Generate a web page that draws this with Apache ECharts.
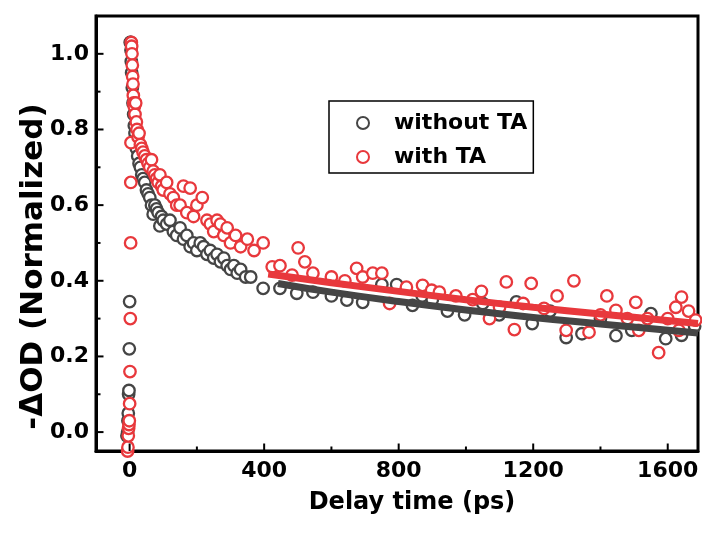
<!DOCTYPE html>
<html>
<head>
<meta charset="utf-8">
<script src="https://cdn.jsdelivr.net/npm/echarts@6/dist/echarts.min.js"></script>
<style>html,body{margin:0;padding:0;background:#fff}#c{width:702px;height:537px}</style>
</head>
<body>
<div id="c"></div>
<script>
// ---- data ----
var xTicks = [0, 400, 800, 1200, 1600];
var xMinorTicks = [200, 600, 1000, 1400];
var yTicks = [0, 0.2, 0.4, 0.6, 0.8, 1.0];
var yMinorTicks = [0.1, 0.3, 0.5, 0.7, 0.9];

var grayX = [-8,-6,-5,-4,-3,-2,-1,0,2,3,4,5,6,8,10,12,14,16,18,20,24,28,32,36,40,45,50,55,60,65,70,75,80,85,90,95,100,110,120,130,140,150,160,170,180,190,200,210,220,230,240,250,260,270,280,290,300,310,320,330,345,360,397,447,497,545,600,646,693,750,794,841,870,900,945,996,1050,1099,1150,1197,1250,1298,1345,1400,1446,1493,1550,1594,1641,1680];
var grayY = [-0.01,0.0,0.03,0.05,0.10,0.11,0.22,0.345,1.03,1.03,1.01,0.98,0.95,0.91,0.87,0.84,0.81,0.79,0.77,0.75,0.73,0.71,0.70,0.68,0.67,0.66,0.64,0.63,0.62,0.60,0.576,0.60,0.59,0.58,0.545,0.57,0.56,0.55,0.56,0.53,0.52,0.54,0.51,0.52,0.49,0.50,0.48,0.50,0.49,0.47,0.48,0.46,0.47,0.45,0.46,0.44,0.43,0.44,0.42,0.43,0.41,0.41,0.38,0.38,0.367,0.37,0.36,0.349,0.343,0.39,0.39,0.335,0.36,0.35,0.32,0.31,0.34,0.31,0.344,0.287,0.32,0.25,0.26,0.30,0.255,0.269,0.313,0.247,0.256,0.28];

var redX = [-6,-5,-4,-3,-2,-1,0,1,2,3,3.5,4,5,6,7,8,9,10,11,12,14,16,18,20,22,25,28,32,36,40,45,50,55,60,65,70,75,80,85,90,95,100,110,120,130,140,150,160,170,180,190,200,216,230,240,250,260,270,280,290,300,315,330,350,370,397,424,447,483,501,521,545,600,640,675,693,723,750,773,823,871,898,921,970,1020,1046,1070,1100,1120,1144,1170,1194,1232,1271,1298,1321,1366,1400,1419,1446,1480,1505,1514,1540,1573,1600,1624,1633,1641,1662,1683];
var redY = [-0.05,-0.04,-0.01,0.01,0.02,0.03,0.075,0.16,0.30,0.50,0.66,0.765,1.03,1.02,1.00,0.97,0.94,0.92,0.89,0.87,0.86,0.84,0.87,0.82,0.80,0.78,0.79,0.76,0.75,0.74,0.73,0.72,0.71,0.70,0.72,0.69,0.68,0.67,0.66,0.68,0.65,0.64,0.66,0.63,0.62,0.60,0.60,0.65,0.58,0.645,0.57,0.60,0.62,0.56,0.55,0.53,0.56,0.55,0.52,0.54,0.50,0.52,0.49,0.51,0.48,0.50,0.437,0.44,0.415,0.487,0.45,0.42,0.41,0.40,0.433,0.41,0.42,0.42,0.34,0.383,0.388,0.375,0.37,0.36,0.35,0.372,0.30,0.33,0.397,0.271,0.34,0.393,0.327,0.36,0.269,0.40,0.264,0.31,0.36,0.322,0.30,0.343,0.269,0.30,0.21,0.30,0.33,0.269,0.357,0.32,0.296];

var grayFitX = [441, 600, 800, 1000, 1200, 1400, 1690];
var grayFitY = [0.393, 0.370, 0.345, 0.323, 0.303, 0.286, 0.262];
var redFitX = [412, 600, 800, 1000, 1200, 1400, 1690];
var redFitY = [0.418, 0.395, 0.372, 0.350, 0.330, 0.312, 0.287];

var X_MIN = -100, X_MAX = 1690, Y_MIN = -0.05, Y_MAX = 1.1;

function zip(a, b) { return a.map(function (v, i) { return [v, b[i]]; }); }

var GRAY = '#454545', RED = '#e8383c';
var FONT = 'DejaVu Sans';

// inward tick marks drawn through the axes' own scales
function xTickSeries(values, len) {
  return {
    type: 'custom', silent: true, z: 10,
    data: values.map(function (v) { return [v, Y_MIN]; }),
    renderItem: function (params, api) {
      var p = api.coord([api.value(0), Y_MIN]);
      return {type: 'line', shape: {x1: p[0], y1: p[1], x2: p[0], y2: p[1] - len},
              style: {stroke: '#000', lineWidth: 2}};
    }
  };
}
function yTickSeries(values, len) {
  return {
    type: 'custom', silent: true, z: 10,
    data: values.map(function (v) { return [X_MIN, v]; }),
    renderItem: function (params, api) {
      var p = api.coord([X_MIN, api.value(1)]);
      return {type: 'line', shape: {x1: p[0], y1: p[1], x2: p[0] + len, y2: p[1]},
              style: {stroke: '#000', lineWidth: 2}};
    }
  };
}

var chart = echarts.init(document.getElementById('c'), null, {renderer: 'canvas'});
chart.setOption({
  animation: false,
  backgroundColor: '#fff',
  grid: {left: 96, right: 4, top: 16, bottom: 86, show: true, borderColor: '#000', borderWidth: 3, backgroundColor: 'transparent'},
  legend: {
    data: ['without TA', 'with TA'],
    orient: 'vertical',
    left: 329, top: 101,
    padding: [11, 6, 5, 27],
    itemGap: 12,
    itemWidth: 12, itemHeight: 12,
    borderColor: '#000', borderWidth: 1.5,
    textStyle: {fontFamily: FONT, fontWeight: 'bold', fontSize: 22, color: '#000', lineHeight: 22, padding: [0, 0, 0, 20]}
  },
  xAxis: {
    type: 'value', min: X_MIN, max: X_MAX,
    name: 'Delay time (ps)', nameLocation: 'middle', nameGap: 40, nameMoveOverlap: false,
    nameTextStyle: {fontFamily: FONT, fontWeight: 'bold', fontSize: 24, color: '#000', padding: [0, 0, 0, 30]},
    axisLine: {show: true, onZero: false, lineStyle: {color: '#000', width: 3}},
    axisTick: {show: false},
    axisLabel: {show: true, margin: 9, fontFamily: FONT, fontWeight: 'bold', fontSize: 22, color: '#000', customValues: xTicks,
      formatter: function (v) { return String(v); }},
    splitLine: {show: false}
  },
  yAxis: {
    type: 'value', min: Y_MIN, max: Y_MAX,
    name: '-ΔOD (Normalized)', nameLocation: 'middle', nameGap: 47, nameMoveOverlap: false,
    nameTextStyle: {fontFamily: FONT, fontWeight: 'bold', fontSize: 31, color: '#000', padding: [0, 66, 0, 0]},
    axisLine: {show: true, onZero: false, lineStyle: {color: '#000', width: 3}},
    axisTick: {show: false},
    axisLabel: {show: true, margin: 7, fontFamily: FONT, fontWeight: 'bold', fontSize: 22, color: '#000', customValues: yTicks,
      formatter: function (v) { return v.toFixed(1); }},
    splitLine: {show: false}
  },
  series: [{
    name: 'without TA', type: 'scatter', data: zip(grayX, grayY),
    symbol: 'circle', symbolSize: 11.5, z: 2,
    itemStyle: {color: '#fff', borderColor: GRAY, borderWidth: 2.3, opacity: 1}
  }, {
    name: 'with TA', type: 'scatter', data: zip(redX, redY),
    symbol: 'circle', symbolSize: 11.5, z: 3,
    itemStyle: {color: '#fff', borderColor: RED, borderWidth: 2.3, opacity: 1}
  }, {
    name: 'fit without TA', type: 'line', data: zip(grayFitX, grayFitY), smooth: true,
    showSymbol: false, z: 4, lineStyle: {color: GRAY, width: 7}
  }, {
    name: 'fit with TA', type: 'line', data: zip(redFitX, redFitY), smooth: true,
    showSymbol: false, z: 5, lineStyle: {color: RED, width: 7}
  },
    xTickSeries(xTicks, 7.5), xTickSeries(xMinorTicks, 4.5),
    yTickSeries(yTicks, 7.5), yTickSeries(yMinorTicks, 4.5)
  ]
});
</script>
</body>
</html>
